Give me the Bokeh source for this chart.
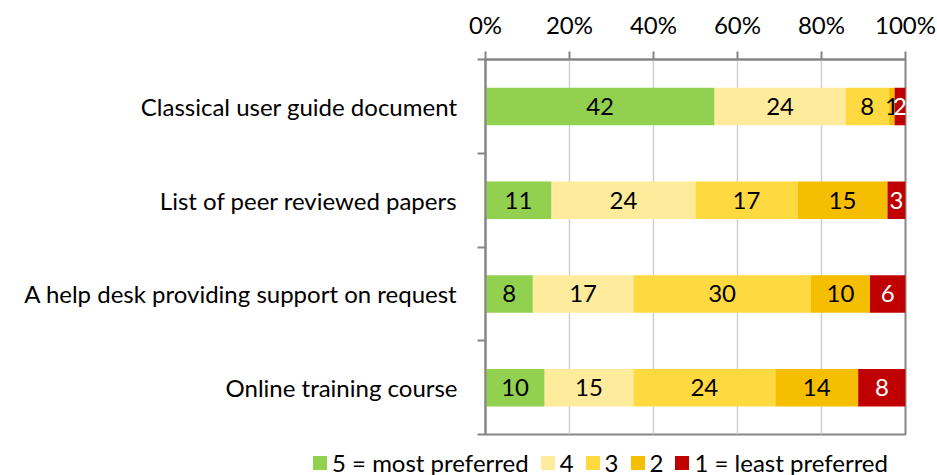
from bokeh.plotting import figure
from bokeh.layouts import column
from bokeh.models import (ColumnDataSource, FixedTicker, NumeralTickFormatter,
                          Range1d, Div)
from bokeh.embed import file_html
from bokeh.resources import INLINE
from bokeh.core.properties import value

# ---- data (top to bottom) ----
categories = ["Classical user guide document",
              "List of peer reviewed papers",
              "A help desk providing support on request",
              "Online training course"]
s5 = [42, 11, 8, 10]
s4 = [24, 24, 17, 15]
s3 = [8, 17, 30, 24]
s2 = [1, 15, 10, 14]
s1 = [2, 3, 6, 8]
series_names = ["5 = most preferred", "4", "3", "2", "1 = least preferred"]
colors = ["#92D050", "#FFEB9C", "#FFD940", "#F5BE00", "#C00000"]
label_colors = ["black", "black", "black", "black", "white"]
x_ticks = [0, 0.2, 0.4, 0.6, 0.8, 1.0]

FONT = "Lato"
FS = "24px"
GRAY = "#868686"

series = [s5, s4, s3, s2, s1]
n = len(categories)
# numeric y: category i (from top) centered at 2*(n-1-i)+1
ys = [2 * (n - 1 - i) + 1 for i in range(n)]
totals = [sum(s[i] for s in series) for i in range(n)]

p = figure(width=937, height=445, output_backend="svg", toolbar_location=None,
           x_range=Range1d(0, 1), y_range=Range1d(0, 2 * n),
           x_axis_location="above",
           min_border_left=485, min_border_right=32, min_border_top=59,
           min_border_bottom=11)

left = [0.0] * n
lab_x, lab_y, lab_t, lab_c = [], [], [], []
for k, s in enumerate(series):
    fr = [s[i] / totals[i] for i in range(n)]
    right = [left[i] + fr[i] for i in range(n)]
    src = ColumnDataSource(dict(y=ys, left=list(left), right=right))
    p.hbar(y="y", left="left", right="right", height=0.8, source=src,
           fill_color=colors[k], line_color=None)
    for i in range(n):
        lab_x.append((left[i] + right[i]) / 2)
        lab_y.append(ys[i])
        lab_t.append(str(s[i]))
        lab_c.append(label_colors[k])
    left = right

lsrc = ColumnDataSource(dict(x=lab_x, y=lab_y, t=lab_t, c=lab_c))
p.text(x="x", y="y", text="t", source=lsrc, text_color="c",
       text_align="center", text_baseline="middle",
       text_font=value(FONT), text_font_size=FS)

# x axis (top)
xa = p.xaxis[0]
xa.ticker = FixedTicker(ticks=x_ticks)
xa.formatter = NumeralTickFormatter(format="0%")
xa.axis_line_color = GRAY
xa.axis_line_width = 2
xa.major_tick_line_color = GRAY
xa.major_tick_line_width = 2
xa.major_tick_out = 8
xa.major_tick_in = 0
xa.minor_tick_line_color = None
xa.major_label_text_font = FONT
xa.major_label_text_font_size = FS
xa.major_label_text_color = "black"
xa.major_label_standoff = 13

# y axis (left): labels at centers, ticks at boundaries
ya = p.yaxis[0]
ya.ticker = FixedTicker(ticks=ys, minor_ticks=list(range(0, 2 * n + 1, 2)))
ya.major_label_overrides = {ys[i]: categories[i] for i in range(n)}
ya.axis_line_color = GRAY
ya.axis_line_width = 2
ya.major_tick_out = 0
ya.major_tick_in = 0
ya.minor_tick_out = 8
ya.minor_tick_in = 0
ya.minor_tick_line_color = GRAY
ya.minor_tick_line_width = 2
ya.major_label_text_font = FONT
ya.major_label_text_font_size = FS
ya.major_label_text_color = "black"
ya.major_label_standoff = 20

p.xgrid.ticker = FixedTicker(ticks=x_ticks)
p.xgrid.grid_line_color = "#D0D0D0"
p.xgrid.grid_line_width = 1.5
p.ygrid.grid_line_color = None
p.outline_line_color = GRAY
p.outline_line_width = 2

# ---- legend strip (HTML, real text) ----
parts = []
for k in range(len(series)):
    parts.append(
        '<span style="display:inline-block;width:14px;height:14px;'
        'background:%s;margin-right:5px;vertical-align:middle;"></span>'
        '<span style="vertical-align:middle;margin-right:12px;">%s</span>'
        % (colors[k], series_names[k]))
html = ('<div style="font-family:Lato;font-size:24px;color:black;'
        'white-space:nowrap;line-height:30px;padding-left:313px;margin:0;">'
        + "".join(parts) + "</div>")
leg = Div(text=html, width=937, height=30, margin=0)

layout = column(p, leg, spacing=0)
open("out.html", "w").write(file_html(layout, INLINE))
